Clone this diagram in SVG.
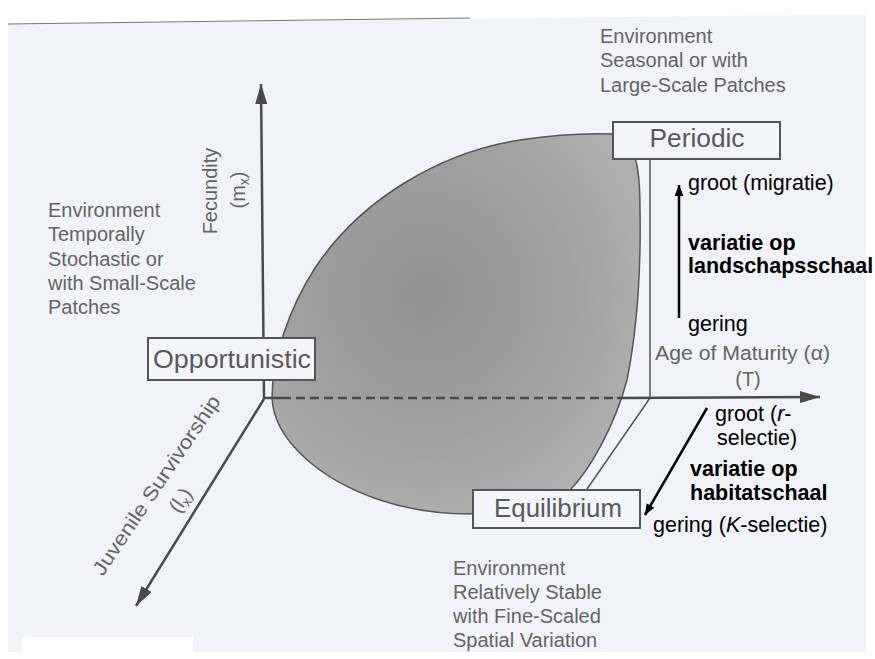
<svg xmlns="http://www.w3.org/2000/svg" width="875" height="659" viewBox="0 0 875 659">
  <defs>
    <radialGradient id="blobFill" cx="0.42" cy="0.42" r="0.62">
      <stop offset="0" stop-color="#929292"/>
      <stop offset="0.6" stop-color="#a0a0a0"/>
      <stop offset="1" stop-color="#afafaf"/>
    </radialGradient>
    <marker id="grayHead" viewBox="0 0 20 12" refX="20" refY="6" markerWidth="20" markerHeight="12" markerUnits="userSpaceOnUse" orient="auto">
      <path d="M0,0 L20,6 L0,12 Z" fill="#4a4a4a"/>
    </marker>
    <marker id="blackHead" viewBox="0 0 11 9" refX="11" refY="4.5" markerWidth="11" markerHeight="9" markerUnits="userSpaceOnUse" orient="auto">
      <path d="M0,0 L11,4.5 L0,9 Z" fill="#000"/>
    </marker>
  </defs>
  <style>
    .gray { font-family: "Liberation Sans", Arial, Helvetica, sans-serif; font-size: 20px; fill: #646464; }
    .box { fill: #f4f5f8; stroke: #555; stroke-width: 2; }
    .boxlabel { font-family: "Liberation Sans", Arial, Helvetica, sans-serif; font-size: 25px; fill: #595959; text-anchor: middle; }
    .axis { stroke: #4a4a4a; stroke-width: 2.5; fill: none; }
    .blk { font-family: "Liberation Sans", Arial, Helvetica, sans-serif; font-size: 21.5px; fill: #000; }
    .bold { font-weight: bold; }
    .arrow { stroke: #000; stroke-width: 2.5; fill: none; }
  </style>

  <!-- scanned page background -->
  <rect x="0" y="0" width="875" height="659" fill="#ffffff"/>
  <polygon points="8,24 800,15 866,15 866,652 8,652" fill="#f2f3f8"/>
  <line x1="8" y1="24" x2="470" y2="18" stroke="#777" stroke-width="1"/>
  <rect x="22" y="637" width="171" height="22" fill="#ffffff"/>

  <!-- strategy region -->
  <g id="region">
    <path d="M650,159 L650,398 L585,492" fill="none" stroke="#555" stroke-width="1.5"/>
    <path d="M613,134 C590,133 560,134 520,140 C440,152 360,200 315,268 C288,310 272,360 272,398 C274,440 320,480 380,500 C410,510 440,514 470,514 L570,490 C590,470 615,425 627,380 C637,330 641,270 640,210 C640,180 638,160 630,145 Z" fill="url(#blobFill)" stroke="#555" stroke-width="1.5"/>
  </g>

  <!-- connectors: axes and annotation arrows -->
  <g id="connectors">
    <line class="axis" x1="264" y1="399" x2="261" y2="84" marker-end="url(#grayHead)"/>
    <line class="axis" x1="264" y1="399" x2="136" y2="606" marker-end="url(#grayHead)"/>
    <line class="axis" x1="264" y1="398" x2="282" y2="398"/>
    <line class="axis" x1="282" y1="398" x2="617" y2="398" stroke-dasharray="9 5"/>
    <line class="axis" x1="617" y1="398" x2="820" y2="397" marker-end="url(#grayHead)"/>
    <line class="arrow" x1="679" y1="318" x2="679" y2="185" marker-end="url(#blackHead)"/>
    <line class="arrow" x1="707" y1="408" x2="645" y2="515" marker-end="url(#blackHead)"/>
  </g>

  <!-- nodes -->
  <g id="node-periodic">
    <rect class="box" x="613" y="122" width="167" height="37"/>
    <text class="boxlabel" x="697" y="147" textLength="95" lengthAdjust="spacingAndGlyphs">Periodic</text>
  </g>
  <g id="node-opportunistic">
    <rect class="box" x="148" y="338" width="167" height="42"/>
    <text class="boxlabel" x="232" y="368" textLength="158" lengthAdjust="spacingAndGlyphs">Opportunistic</text>
  </g>
  <g id="node-equilibrium">
    <rect class="box" x="473" y="490" width="167" height="38"/>
    <text class="boxlabel" x="558" y="517" textLength="128" lengthAdjust="spacingAndGlyphs">Equilibrium</text>
  </g>

  <!-- axis labels -->
  <g id="axis-labels">
    <text class="gray" transform="translate(217,191) rotate(-90)" text-anchor="middle" font-size="21">Fecundity</text>
    <text class="gray" transform="translate(245,190) rotate(-90)" text-anchor="middle" font-size="20">(m<tspan font-size="14" dy="4">x</tspan><tspan dy="-4">)</tspan></text>
    <text class="gray" transform="translate(162,489) rotate(-56)" text-anchor="middle" font-size="21" textLength="212" lengthAdjust="spacingAndGlyphs">Juvenile Survivorship</text>
    <text class="gray" transform="translate(186,504) rotate(-56)" text-anchor="middle" font-size="20">(l<tspan font-size="14" dy="4">x</tspan><tspan dy="-4">)</tspan></text>
    <text class="gray" x="655" y="360" textLength="175" lengthAdjust="spacingAndGlyphs">Age of Maturity (α)</text>
    <text class="gray" x="748" y="386" text-anchor="middle">(T)</text>
  </g>

  <!-- environment descriptions -->
  <g id="env-top">
    <text class="gray" x="600" y="43">Environment</text>
    <text class="gray" x="600" y="67">Seasonal or with</text>
    <text class="gray" x="600" y="92">Large-Scale Patches</text>
  </g>
  <g id="env-left">
    <text class="gray" x="48" y="217">Environment</text>
    <text class="gray" x="48" y="241">Temporally</text>
    <text class="gray" x="48" y="266">Stochastic or</text>
    <text class="gray" x="48" y="290">with Small-Scale</text>
    <text class="gray" x="48" y="314">Patches</text>
  </g>
  <g id="env-bottom">
    <text class="gray" x="453" y="575">Environment</text>
    <text class="gray" x="453" y="599">Relatively Stable</text>
    <text class="gray" x="453" y="623">with Fine-Scaled</text>
    <text class="gray" x="453" y="647">Spatial Variation</text>
  </g>

  <!-- annotations -->
  <g id="annot-landscape">
    <text class="blk" x="688" y="190">groot (migratie)</text>
    <text class="blk bold" x="688" y="250">variatie op</text>
    <text class="blk bold" x="688" y="273">landschapsschaal</text>
    <text class="blk" x="688" y="331">gering</text>
  </g>
  <g id="annot-habitat">
    <text class="blk" x="715" y="421">groot (<tspan font-style="italic">r</tspan>-</text>
    <text class="blk" x="717" y="445">selectie)</text>
    <text class="blk bold" x="690" y="476">variatie op</text>
    <text class="blk bold" x="690" y="500">habitatschaal</text>
    <text class="blk" x="653" y="532">gering (<tspan font-style="italic">K</tspan>-selectie)</text>
  </g>
</svg>
